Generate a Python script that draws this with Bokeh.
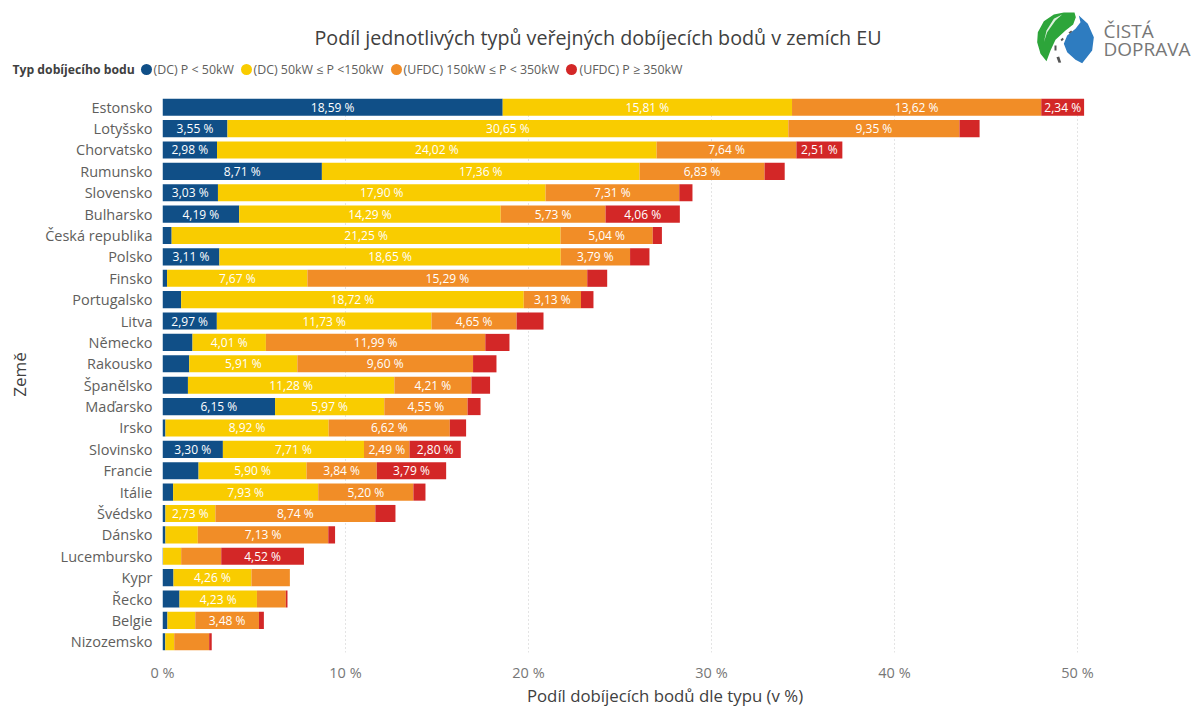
from bokeh.plotting import figure
from bokeh.layouts import column
from bokeh.models import ColumnDataSource, FactorRange, Range1d, FixedTicker, PrintfTickFormatter
from bokeh.core.properties import value
from bokeh.embed import file_html
from bokeh.resources import INLINE

FONT = "Open Sans"

countries = ["Estonsko", "Lotyšsko", "Chorvatsko", "Rumunsko", "Slovensko", "Bulharsko", "Česká republika",
             "Polsko", "Finsko", "Portugalsko", "Litva", "Německo", "Rakousko", "Španělsko", "Maďarsko", "Irsko",
             "Slovinsko", "Francie", "Itálie", "Švédsko", "Dánsko", "Lucembursko", "Kypr", "Řecko", "Belgie",
             "Nizozemsko"]
dc_low = [18.59, 3.55, 2.98, 8.71, 3.03, 4.19, 0.50, 3.11, 0.25, 1.02, 2.97, 1.64, 1.46, 1.39, 6.15, 0.16,
          3.30, 1.97, 0.58, 0.16, 0.16, 0.03, 0.60, 0.93, 0.27, 0.15]
dc_mid = [15.81, 30.65, 24.02, 17.36, 17.90, 14.29, 21.25, 18.65, 7.67, 18.72, 11.73, 4.01, 5.91, 11.28, 5.97, 8.92,
          7.71, 5.90, 7.93, 2.73, 1.77, 0.99, 4.26, 4.23, 1.52, 0.49]
ufdc_mid = [13.62, 9.35, 7.64, 6.83, 7.31, 5.73, 5.04, 3.79, 15.29, 3.13, 4.65, 11.99, 9.60, 4.21, 4.55, 6.62,
            2.49, 3.84, 5.20, 8.74, 7.13, 2.19, 2.10, 1.58, 3.48, 1.91]
ufdc_high = [2.34, 1.10, 2.51, 1.10, 0.72, 4.06, 0.50, 1.06, 1.09, 0.68, 1.47, 1.32, 1.28, 1.02, 0.71, 0.89,
             2.80, 3.79, 0.66, 1.10, 0.37, 4.52, 0.00, 0.09, 0.27, 0.14]
series_keys = ["dc_low", "dc_mid", "ufdc_mid", "ufdc_high"]
series_names = ["(DC) P < 50kW", "(DC) 50kW ≤ P <150kW", "(UFDC) 150kW ≤ P < 350kW", "(UFDC) P ≥ 350kW"]
colors = ["#104F87", "#F9CC00", "#F18D27", "#D32727"]
x_ticks = [0, 10, 20, 30, 40, 50]
label_min = 2.3
title_text = "Podíl jednotlivých typů veřejných dobíjecích bodů v zemích EU"
legend_title = "Typ dobíjecího bodu"
x_title = "Podíl dobíjecích bodů dle typu (v %)"
y_title = "Země"
logo_words = ["ČISTÁ", "DOPRAVA"]

W, H_HEAD, H_MAIN, H_FOOT = 1192, 96, 588, 23

# ---------- header: title, legend, logo (pixel-coordinate frame) ----------
h = figure(width=W, height=H_HEAD, output_backend="svg", toolbar_location=None,
           x_range=Range1d(0, W), y_range=Range1d(H_HEAD, 0), x_axis_type=None, y_axis_type=None,
           min_border=0, outline_line_color=None)
h.frame_align = False

def htext(x, y, text, size, color, style="normal", align="left"):
    h.text(x=[x], y=[y], text=[text], text_font=value(FONT), text_font_size=size, text_color=color,
           text_font_style=style, text_align=align, text_baseline="middle")

htext(597.5, 37, title_text, "19.7px", "#404040", align="center")
htext(12, 69, legend_title, "12.2px", "#404040", style="bold")
legend_dots = [146, 246, 396, 571]
legend_texts = [153, 253, 403, 579]
for name, col, dx, tx in zip(series_names, colors, legend_dots, legend_texts):
    h.scatter(x=[dx], y=[69], size=11, marker="circle", fill_color=col, line_color=None)
    htext(tx, 69, name, "12.4px", "#605E5C")

def logo(pts, col):
    h.patch(x=[1000 + a / 3 for a, b in pts], y=[b / 3 for a, b in pts], fill_color=col, line_color=None)

logo([(222, 36), (190, 36), (160, 42), (130, 62), (112, 95), (110, 125), (120, 160), (138, 182), (150, 150),
      (165, 118), (195, 90), (218, 72), (226, 50)], "#2DA53A")
logo([(235, 45), (262, 70), (280, 110), (275, 150), (245, 188), (225, 178), (200, 155), (190, 130), (200, 105),
      (225, 85), (240, 65)], "#2E7CC0")
logo([(160, 55), (185, 42), (165, 60), (140, 95), (130, 125), (138, 90)], "#DDF0DD")
for pts in ([(162, 135), (168, 135), (168, 150), (162, 150)],
            [(168, 170), (176, 168), (182, 186), (174, 187)],
            [(180, 118), (186, 112), (190, 116), (184, 122)],
            [(204, 96), (212, 90), (215, 94), (207, 100)]):
    logo(pts, "#555555")
for word, y in zip(logo_words, (30, 48)):
    htext(1103, y, word, "19px", "#777777")

# ---------- main chart ----------
p = figure(width=W, height=H_MAIN, output_backend="svg", toolbar_location=None,
           y_range=FactorRange(factors=countries[::-1], range_padding=0, factor_padding=0),
           x_range=Range1d(0, 50.71),
           min_border_left=162, min_border_right=102, min_border_top=0, min_border_bottom=31,
           outline_line_color=None)
p.frame_align = False

src = ColumnDataSource(dict(country=countries, dc_low=dc_low, dc_mid=dc_mid, ufdc_mid=ufdc_mid, ufdc_high=ufdc_high))
p.hbar_stack(series_keys, y="country", height=0.8, color=colors, source=src, line_color=None)

all_series = [dc_low, dc_mid, ufdc_mid, ufdc_high]
lx, ly, lt = [], [], []
for i, c in enumerate(countries):
    left = 0.0
    for s in all_series:
        v = s[i]
        if v >= label_min:
            lx.append(left + v / 2)
            ly.append(c)
            lt.append(f"{v:.2f} %".replace(".", ","))
        left += v
p.text(x=lx, y=ly, text=lt, text_color="white", text_font=value(FONT), text_font_size="12px",
       text_align="center", text_baseline="middle")

p.xgrid.ticker = FixedTicker(ticks=x_ticks)
p.xgrid.grid_line_color = "#C8C8C8"
p.xgrid.grid_line_dash = "1 3"
p.ygrid.grid_line_color = None
p.xaxis.ticker = FixedTicker(ticks=x_ticks)
p.xaxis.formatter = PrintfTickFormatter(format="%d %%")
for ax in (p.xaxis[0], p.yaxis[0]):
    ax.axis_line_color = None
    ax.major_tick_line_color = None
    ax.minor_tick_line_color = None
    ax.major_label_text_font = FONT
    ax.axis_label_text_font = FONT
    ax.axis_label_text_font_style = "normal"
    ax.axis_label_text_color = "#404040"
    ax.axis_label_text_font_size = "17px"
    ax.axis_label_text_line_height = 1.0
p.xaxis.major_label_text_color = "#777777"
p.xaxis.major_label_text_font_size = "14.5px"
p.xaxis.major_label_standoff = 4
p.xaxis.major_label_text_line_height = 1.0
p.yaxis.major_label_text_color = "#605E5C"
p.yaxis.major_label_text_font_size = "14.5px"
p.yaxis.major_label_standoff = 4
p.yaxis.axis_label = y_title
p.yaxis.axis_label_standoff = 11

# ---------- footer: x axis title ----------
f = figure(width=W, height=H_FOOT, output_backend="svg", toolbar_location=None,
           x_range=Range1d(0, W), y_range=Range1d(H_FOOT, 0), x_axis_type=None, y_axis_type=None,
           min_border=0, outline_line_color=None)
f.frame_align = False
f.text(x=[664.5], y=[11.3], text=[x_title], text_font=value(FONT), text_font_size="16.8px", text_color="#404040",
       text_align="center", text_baseline="middle")

open("out.html", "w").write(file_html(column(h, p, f, spacing=0), INLINE))
